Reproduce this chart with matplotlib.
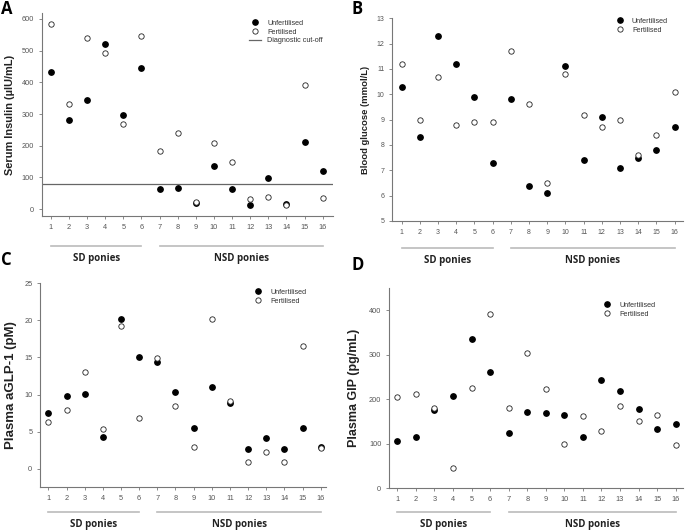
import matplotlib
matplotlib.use("Agg")
import matplotlib.pyplot as plt
from matplotlib.lines import Line2D

plt.rcParams['font.family'] = ['Liberation Sans', 'DejaVu Sans']

ponies = list(range(1, 17))

# A - serum insulin (uIU/mL)
insulin_unfert = [433, 281, 344, 521, 296, 444, 63, 65, 20, 137, 63, 13, 97, 17, 212, 121]
insulin_fert = [585, 332, 540, 493, 270, 546, 184, 239, 22, 208, 149, 33, 37, 12, 393, 35]
insulin_cutoff = 80

# B - blood glucose (mmol/L)
glucose_unfert = [10.3, 8.3, 12.3, 11.2, 9.9, 7.3, 9.8, 6.4, 6.1, 11.1, 7.4, 9.1, 7.1, 7.5, 7.8, 8.7]
glucose_fert = [11.2, 9.0, 10.7, 8.8, 8.9, 8.9, 11.7, 9.6, 6.5, 10.8, 9.2, 8.7, 9.0, 7.6, 8.4, 10.1]

# C - plasma aGLP-1 (pM)
glp1_unfert = [7.5, 9.8, 10.1, 4.3, 20.2, 15.1, 14.4, 10.4, 5.5, 11.0, 8.8, 2.6, 4.2, 2.6, 5.5, 3.0]
glp1_fert = [6.3, 7.9, 13.1, 5.4, 19.3, 6.9, 14.9, 8.5, 2.9, 20.2, 9.2, 0.9, 2.3, 0.9, 16.6, 2.8]

# D - plasma GIP (pg/mL)
gip_unfert = [106, 115, 175, 207, 336, 262, 125, 171, 168, 164, 115, 244, 218, 177, 134, 145]
gip_fert = [206, 211, 181, 44, 225, 392, 181, 305, 224, 100, 162, 128, 184, 150, 164, 96]

groups = ['SD ponies', 'NSD ponies']
group_ranges = [(1, 6), (7, 16)]

GREY = '#555555'
SPINE = '#777777'

fig = plt.figure(figsize=(6.85, 5.32), dpi=100)


def panel(rect, letter, letter_xy, unfert, fert, ylabel, ylab_size, ylab_x,
          ylim, yticks, xlim, tick_size, group_y, legend_xy, cutoff=None):
    ax = fig.add_axes(rect)
    ax.scatter(ponies, unfert, s=15, color='black', zorder=3, label='Unfertilised')
    ax.scatter(ponies, fert, s=15, facecolor='white', edgecolor='#222222',
               linewidth=0.6, zorder=4, label='Fertilised')
    handles = [Line2D([], [], ls='none', marker='o', ms=3.8, color='black'),
               Line2D([], [], ls='none', marker='o', ms=3.8, mfc='white',
                      mec='#222222', mew=0.6)]
    labels = ['Unfertilised', 'Fertilised']
    if cutoff is not None:
        ax.axhline(cutoff, color='#666666', lw=0.9, zorder=2)
        handles.append(Line2D([], [], color='#666666', lw=0.9))
        labels.append('Diagnostic cut-off')
    ax.set_xlim(*xlim)
    ax.set_ylim(*ylim)
    ax.set_xticks(ponies)
    ax.set_yticks(yticks)
    for s in ['top', 'right']:
        ax.spines[s].set_visible(False)
    for s in ['left', 'bottom']:
        ax.spines[s].set_color(SPINE)
        ax.spines[s].set_linewidth(0.8)
    ax.tick_params(colors=SPINE, labelcolor=GREY, labelsize=tick_size,
                   length=2.5, width=0.6, pad=3)
    ax.set_ylabel(ylabel, fontsize=ylab_size, fontweight='bold', color='#222222')
    ax.yaxis.set_label_coords(ylab_x, 0.5)

    leg = ax.legend(handles, labels, loc='upper left', bbox_to_anchor=legend_xy,
                    frameon=False, fontsize=5.2, handlelength=1.6,
                    handletextpad=0.9, labelspacing=0.25, borderpad=0)
    for t in leg.get_texts():
        t.set_color('#333333')

    trans = ax.get_xaxis_transform()
    for name, (x0, x1) in zip(groups, group_ranges):
        ax.plot([x0, x1], [group_y, group_y], color='#bbbbbb', lw=1.2,
                transform=trans, clip_on=False)
        ax.text((x0 + x1) / 2, group_y - 0.06, name, transform=trans,
                ha='center', va='center', fontsize=7, fontweight='bold',
                family=['Open Sans', 'DejaVu Sans'], color='#222222')
    fig.text(letter_xy[0], letter_xy[1], letter, fontsize=12, fontweight='bold',
             family=['Open Sans', 'DejaVu Sans'], va='top', ha='left')
    return ax


panel([0.0609, 0.594, 0.4253, 0.3816], 'A', (0.002, 1.0),
      insulin_unfert, insulin_fert, 'Serum Insulin (\u00b5IU/mL)', 7.9, -0.092,
      (-22, 619), range(0, 601, 100), (0.5, 16.57), 5.3, -0.148,
      (0.70, 0.985), cutoff=insulin_cutoff)

panel([0.5723, 0.5846, 0.4248, 0.381], 'B', (0.513, 1.0),
      glucose_unfert, glucose_fert, 'Blood glucose (mmol/L)', 6.8, -0.076,
      (5, 13), range(5, 14), (0.47, 16.46), 5.0, -0.133,
      (0.75, 1.02))

panel([0.0584, 0.084, 0.4175, 0.3835], 'C', (0.002, 0.528),
      glp1_unfert, glp1_fert, 'Plasma aGLP-1 (pM)', 9.5, -0.082,
      (-2.5, 25), range(0, 26, 5), (0.54, 16.29), 5.3, -0.1225,
      (0.73, 0.99))

panel([0.5679, 0.0827, 0.4296, 0.3754], 'D', (0.513, 0.518),
      gip_unfert, gip_fert, 'Plasma GIP (pg/mL)', 9.0, -0.1,
      (0, 450), range(0, 401, 100), (0.55, 16.41), 5.3, -0.122,
      (0.71, 0.95))

fig.savefig('out.png', dpi=100)
